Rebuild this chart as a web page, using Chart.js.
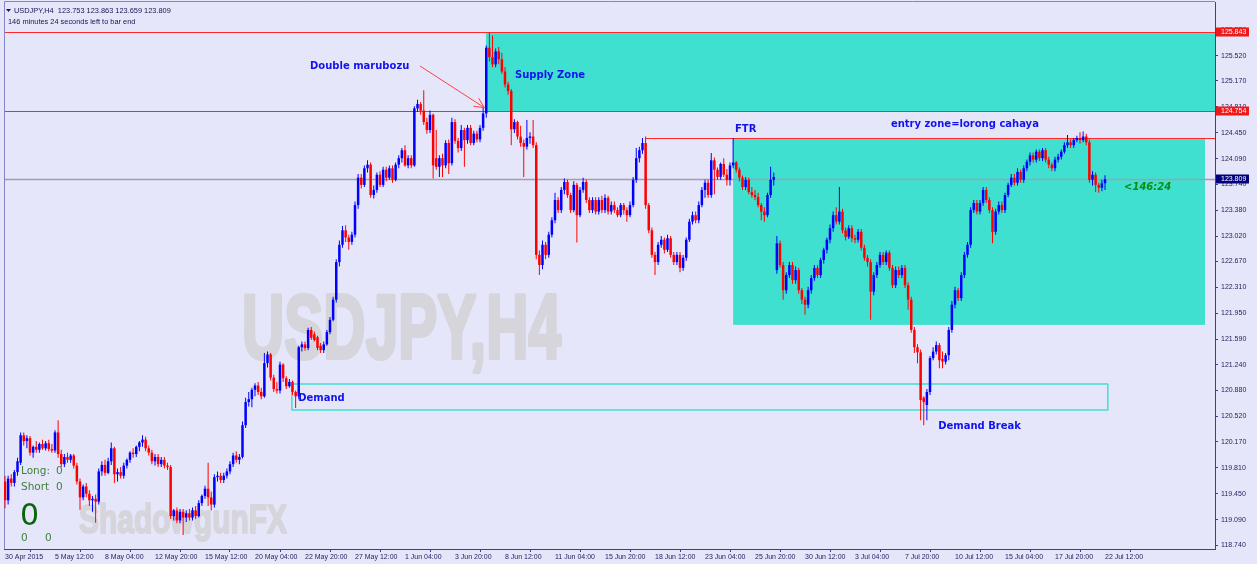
<!DOCTYPE html>
<html>
<head>
<meta charset="utf-8">
<script src="https://cdn.jsdelivr.net/npm/chart.js@4.4.1/dist/chart.umd.min.js"></script>
<style>
html,body{margin:0;padding:0;background:#E6E6FA;}
#wrap{width:1257px;height:564px;position:relative;}
canvas{display:block;}
</style>
</head>
<body>
<div id="wrap"><canvas id="c" width="1257" height="564"></canvas></div>
<script>
// ---- data (H4 candles) ----
const openP = [
119.62,119.36,119.66,119.60,119.75,119.88,120.26,120.18,120.22,120.02,
120.10,120.06,120.14,120.08,120.15,120.07,120.05,120.30,120.00,119.86,
119.96,119.92,119.98,119.84,119.62,119.40,119.55,119.45,119.36,119.38,
119.34,119.76,119.85,119.74,119.90,120.08,119.72,119.75,119.70,119.84,
119.92,120.02,120.00,120.10,120.16,120.20,120.08,120.02,119.90,119.96,
119.86,119.92,119.84,119.82,119.14,119.22,119.08,119.20,119.12,119.18,
119.12,119.22,119.14,119.32,119.42,119.52,119.40,119.30,119.68,119.70,
119.64,119.70,119.76,119.86,119.98,119.92,119.96,120.40,120.72,120.76,
120.89,120.95,120.86,120.80,121.26,121.38,121.06,120.90,120.88,121.24,
121.05,120.94,121.00,120.86,120.80,121.48,121.52,121.47,121.72,121.66,
121.62,121.50,121.44,121.52,121.69,121.86,122.14,122.66,122.90,123.10,
123.00,122.94,123.04,123.45,123.83,123.73,123.96,124.01,123.59,123.66,
123.87,123.73,123.94,123.83,123.96,123.80,124.01,124.10,124.21,124.00,
124.10,124.00,124.79,124.85,124.76,124.60,124.49,124.70,124.10,123.98,
124.10,124.00,124.31,124.03,124.60,124.34,124.24,124.49,124.35,124.52,
124.31,124.44,124.36,124.52,124.72,125.63,125.50,125.40,125.58,125.47,
125.30,125.12,125.03,124.50,124.60,124.40,124.31,124.26,124.38,124.40,
124.28,122.76,122.62,122.90,122.76,123.04,123.24,123.52,123.38,123.66,
123.77,123.59,123.38,123.73,123.31,123.66,123.77,123.52,123.38,123.52,
123.36,123.52,123.38,123.55,123.36,123.45,123.38,123.31,123.45,123.38,
123.31,123.45,123.80,124.10,124.21,124.31,123.45,123.10,122.76,122.66,
122.90,122.97,122.83,122.99,122.76,122.66,122.76,122.58,122.72,122.97,
123.22,123.31,123.24,123.45,123.66,123.76,123.59,124.07,123.94,123.84,
124.02,123.87,123.80,124.00,124.04,123.94,123.83,123.70,123.80,123.63,
123.59,123.56,123.45,123.36,123.31,123.59,123.80,122.55,122.92,122.62,
122.27,122.48,122.62,122.41,122.55,122.27,122.14,122.07,122.27,122.44,
122.58,122.48,122.69,122.83,122.97,123.13,123.31,123.22,123.36,123.10,
123.01,123.13,122.99,122.97,123.08,122.86,122.72,122.66,122.25,122.48,
122.62,122.76,122.66,122.79,122.58,122.34,122.55,122.48,122.58,122.34,
122.14,121.72,121.48,121.41,120.78,120.68,120.86,121.33,121.42,121.51,
121.32,121.28,121.37,121.72,122.07,122.27,122.16,122.48,122.76,122.90,
123.38,123.48,123.36,123.48,123.66,123.52,123.38,123.08,123.36,123.45,
123.38,123.59,123.73,123.83,123.76,123.91,123.80,123.96,124.05,124.14,
124.08,124.19,124.10,124.21,124.08,124.01,123.96,124.08,124.12,124.19,
124.28,124.32,124.28,124.35,124.38,124.35,124.40,124.32,123.80,123.87,
123.73,123.69,123.753
];
const highP = [
119.70,119.70,119.72,119.78,119.95,120.30,120.30,120.26,120.25,120.12,
120.18,120.16,120.20,120.18,120.20,120.14,120.33,120.47,120.06,120.00,
120.02,120.00,120.00,119.88,119.66,119.58,119.60,119.50,119.42,119.44,
119.80,119.90,119.92,119.95,120.16,120.10,119.80,119.82,119.88,119.94,
120.04,120.08,120.12,120.18,120.26,120.24,120.12,120.06,120.00,120.00,
119.96,119.96,119.88,119.85,119.24,119.26,119.24,119.24,119.22,119.24,
119.26,119.28,119.36,119.44,119.56,119.88,119.48,119.72,119.76,119.74,
119.74,119.80,119.90,120.02,120.04,120.00,120.45,120.78,120.86,120.92,
120.98,121.00,120.92,121.40,121.42,121.40,121.10,121.00,121.28,121.26,
121.08,121.04,121.02,120.88,121.50,121.56,121.56,121.75,121.76,121.70,
121.64,121.54,121.56,121.72,121.90,122.18,122.70,122.96,123.16,123.17,
123.04,123.08,123.50,123.88,123.88,124.00,124.07,124.04,123.72,123.90,
123.92,123.98,123.98,124.00,124.00,124.04,124.14,124.24,124.28,124.14,
124.14,124.82,124.91,124.88,125.04,124.66,124.76,124.72,124.49,124.14,
124.16,124.35,124.36,124.66,124.64,124.38,124.56,124.52,124.56,124.56,
124.48,124.48,124.56,124.80,125.66,125.84,125.80,125.62,125.64,125.56,
125.36,125.16,125.06,124.64,124.62,124.55,124.36,124.63,124.46,124.63,
124.32,122.82,122.96,122.94,123.08,123.28,123.62,123.56,123.70,123.82,
123.80,123.62,123.78,123.76,123.70,123.83,123.80,123.56,123.56,123.56,
123.56,123.58,123.60,123.58,123.50,123.50,123.42,123.48,123.48,123.42,
123.50,123.84,124.24,124.26,124.38,124.40,123.48,123.14,122.80,122.94,
123.02,123.00,123.04,123.02,122.80,122.80,122.80,122.76,123.00,123.26,
123.36,123.36,123.50,123.70,123.80,123.80,124.17,124.11,123.97,124.04,
124.10,123.95,124.04,124.38,124.06,123.97,123.86,123.84,123.83,123.70,
123.66,123.62,123.48,123.42,123.62,123.98,123.90,123.02,122.96,122.66,
122.52,122.66,122.66,122.60,122.58,122.30,122.18,122.32,122.48,122.62,
122.62,122.72,122.86,123.00,123.18,123.36,123.42,123.70,123.40,123.14,
123.17,123.17,123.04,123.12,123.12,122.90,122.76,122.70,122.52,122.66,
122.80,122.80,122.82,122.82,122.62,122.60,122.60,122.62,122.62,122.38,
122.18,121.76,121.52,121.45,120.80,120.90,121.36,121.48,121.56,121.54,
121.42,121.40,121.76,122.12,122.32,122.30,122.52,122.80,122.94,123.42,
123.52,123.52,123.52,123.70,123.70,123.56,123.42,123.40,123.50,123.50,
123.62,123.76,123.88,123.88,123.96,123.94,124.00,124.08,124.18,124.18,
124.22,124.22,124.24,124.24,124.12,124.04,124.12,124.16,124.22,124.32,
124.42,124.36,124.38,124.41,124.46,124.47,124.44,124.36,123.92,123.90,
123.76,123.80,123.863
];
const lowP = [
119.25,119.30,119.55,119.55,119.70,119.85,120.12,120.08,119.98,119.95,
120.02,120.02,120.06,120.05,120.04,120.02,120.02,119.95,119.82,119.82,
119.88,119.88,119.80,119.58,119.23,119.36,119.40,119.28,119.20,119.05,
119.30,119.70,119.70,119.72,119.85,119.60,119.62,119.66,119.66,119.80,
119.88,119.95,119.96,120.04,120.10,120.04,119.98,119.86,119.84,119.82,
119.82,119.80,119.78,119.10,119.08,119.04,119.04,118.88,119.06,119.08,
119.08,119.10,119.12,119.28,119.38,119.28,119.22,119.26,119.62,119.60,
119.60,119.66,119.72,119.82,119.88,119.86,119.94,120.36,120.66,120.65,
120.80,120.82,120.76,120.78,121.20,121.02,120.86,120.84,120.84,121.00,
120.90,120.92,120.82,120.64,120.76,121.42,121.43,121.44,121.58,121.56,
121.44,121.40,121.40,121.50,121.66,121.84,122.10,122.60,122.86,122.94,
122.83,122.90,123.00,123.40,123.68,123.70,123.90,123.55,123.54,123.62,
123.70,123.70,123.78,123.80,123.76,123.78,123.96,124.04,123.98,123.96,
123.96,123.98,124.74,124.70,124.56,124.44,124.45,123.82,123.94,123.84,
123.84,123.96,123.88,124.00,124.30,124.18,124.20,123.98,124.30,124.28,
124.28,124.32,124.32,124.48,124.66,125.44,125.36,125.36,125.40,125.27,
125.08,124.98,124.28,124.45,124.36,124.26,123.84,124.22,124.30,124.24,
122.70,122.48,122.56,122.70,122.72,123.00,123.20,123.34,123.34,123.60,
123.55,123.34,123.35,122.93,123.28,123.62,123.48,123.34,123.34,123.32,
123.32,123.34,123.34,123.32,123.32,123.34,123.28,123.28,123.32,123.22,
123.28,123.42,123.76,124.04,124.16,123.40,123.06,122.72,122.48,122.62,
122.86,122.78,122.80,122.72,122.62,122.62,122.52,122.54,122.68,122.94,
123.18,123.20,123.20,123.42,123.55,123.55,123.55,123.60,123.80,123.80,
123.84,123.72,123.72,123.96,123.90,123.78,123.66,123.66,123.60,123.55,
123.52,123.42,123.24,123.22,123.28,123.55,123.72,122.50,122.58,122.14,
122.22,122.44,122.36,122.36,122.22,122.08,121.93,122.02,122.22,122.40,
122.44,122.44,122.64,122.78,122.92,123.08,123.18,123.18,123.06,122.96,
122.98,122.94,122.92,122.93,122.82,122.68,122.60,121.86,122.20,122.44,
122.58,122.62,122.62,122.54,122.30,122.30,122.44,122.44,122.30,122.00,
121.68,121.40,121.26,120.47,120.40,120.47,120.82,121.30,121.38,121.19,
121.19,121.24,121.30,121.68,122.02,122.12,122.12,122.44,122.72,122.86,
123.34,123.32,123.32,123.44,123.48,123.34,122.92,123.04,123.32,123.34,
123.34,123.56,123.70,123.72,123.72,123.76,123.76,123.92,124.00,124.04,
124.04,124.06,124.06,124.04,123.96,123.92,123.92,124.04,124.08,124.16,
124.24,124.24,124.24,124.32,124.30,124.32,124.28,123.76,123.72,123.63,
123.62,123.64,123.659
];
const closeP = [
119.36,119.66,119.60,119.75,119.90,120.26,120.18,120.22,120.02,120.10,
120.06,120.14,120.08,120.15,120.07,120.05,120.30,120.00,119.86,119.96,
119.92,119.98,119.84,119.62,119.40,119.55,119.45,119.36,119.38,119.34,
119.76,119.85,119.74,119.90,120.08,119.72,119.75,119.70,119.84,119.92,
120.02,120.00,120.10,120.16,120.20,120.08,120.02,119.90,119.96,119.86,
119.92,119.84,119.82,119.14,119.22,119.08,119.20,119.12,119.18,119.12,
119.22,119.14,119.32,119.42,119.52,119.40,119.30,119.68,119.70,119.64,
119.70,119.76,119.86,119.98,119.92,119.96,120.40,120.72,120.76,120.89,
120.95,120.86,120.80,121.26,121.38,121.06,120.90,120.88,121.24,121.05,
120.94,121.00,120.86,120.80,121.48,121.52,121.47,121.72,121.61,121.58,
121.47,121.44,121.52,121.69,121.86,122.14,122.66,122.90,123.10,123.00,
122.94,123.04,123.45,123.83,123.73,123.96,124.01,123.59,123.66,123.87,
123.73,123.94,123.83,123.96,123.80,124.01,124.10,124.21,124.00,124.10,
124.00,124.79,124.85,124.76,124.60,124.49,124.70,124.00,123.98,124.10,
124.00,124.31,124.03,124.60,124.34,124.24,124.49,124.35,124.52,124.31,
124.44,124.36,124.52,124.72,125.63,125.50,125.40,125.58,125.47,125.30,
125.12,125.03,124.50,124.60,124.40,124.31,124.26,124.38,124.40,124.28,
122.76,122.62,122.90,122.76,123.04,123.24,123.52,123.38,123.66,123.77,
123.59,123.38,123.73,123.31,123.66,123.77,123.52,123.38,123.52,123.36,
123.52,123.38,123.55,123.36,123.45,123.38,123.31,123.45,123.38,123.31,
123.45,123.80,124.10,124.21,124.31,123.45,123.10,122.76,122.66,122.90,
122.97,122.83,122.99,122.76,122.66,122.76,122.58,122.72,122.97,123.22,
123.31,123.24,123.45,123.66,123.76,123.59,124.07,123.94,123.84,124.02,
123.87,123.80,124.00,124.04,123.94,123.83,123.70,123.80,123.63,123.59,
123.56,123.45,123.36,123.31,123.59,123.80,123.84,122.92,122.62,122.27,
122.48,122.62,122.41,122.55,122.27,122.14,122.07,122.27,122.44,122.58,
122.48,122.69,122.83,122.97,123.13,123.31,123.22,123.36,123.10,123.01,
123.13,122.99,122.97,123.08,122.86,122.72,122.66,122.25,122.48,122.62,
122.76,122.66,122.79,122.58,122.34,122.55,122.48,122.58,122.34,122.14,
121.72,121.48,121.41,120.75,120.72,120.86,121.33,121.42,121.51,121.30,
121.28,121.37,121.72,122.07,122.27,122.16,122.48,122.76,122.90,123.38,
123.48,123.36,123.48,123.66,123.52,123.38,123.08,123.36,123.45,123.38,
123.59,123.73,123.83,123.76,123.91,123.80,123.96,124.05,124.14,124.08,
124.19,124.10,124.21,124.08,124.01,123.96,124.08,124.12,124.19,124.28,
124.32,124.28,124.35,124.38,124.35,124.40,124.32,123.80,123.87,123.73,
123.69,123.75,123.809
];
// one time label every 16 bars, starting with the first bar
const timeLabels = ["30 Apr 2015","5 May 12:00","8 May 04:00","12 May 20:00","15 May 12:00","20 May 04:00",
  "22 May 20:00","27 May 12:00","1 Jun 04:00","3 Jun 20:00","8 Jun 12:00","11 Jun 04:00","15 Jun 20:00",
  "18 Jun 12:00","23 Jun 04:00","25 Jun 20:00","30 Jun 12:00","3 Jul 04:00","7 Jul 20:00","10 Jul 12:00",
  "15 Jul 04:00","17 Jul 20:00","22 Jul 12:00"];
const priceTicks = [118.740,119.090,119.450,119.810,120.170,120.520,120.880,121.240,121.590,121.950,
  122.310,122.670,123.020,123.380,123.740,124.090,124.450,124.810,125.170,125.520,125.880];
const markedLevels = [125.843, 124.754];
const currentPrice = 123.809;
const headerLine = "USDJPY,H4  123.753 123.863 123.659 123.809";
const timerLine = "146 minutes 24 seconds left to bar end";

// ---- drawn objects, anchored in bar / price space ----
const supplyZone = {fromBar: 153.9, top: 125.843, bottom: 124.754};
const entryZone = {fromBar: 233, toBar: 384, top: 124.38, bottom: 121.79};
const demandZone = {fromBar: 91.8, toBar: 352.9, top: 120.97, bottom: 120.61};
const ftrLine = {fromBar: 205, price: 124.38};
const arrow = {fromBar: 132.8, fromPrice: 125.377, toBar: 153.4, toPrice: 124.80};
const notes = [
  {text: 'Double marubozu', bar: 97.6, price: 125.377},
  {text: 'Supply Zone', bar: 163.2, price: 125.253},
  {text: 'FTR', bar: 233.6, price: 124.504},
  {text: 'entry zone=lorong cahaya', bar: 283.5, price: 124.574},
  {text: 'Demand', bar: 93.8, price: 120.77},
  {text: 'Demand Break', bar: 298.6, price: 120.39}
];

// ---- build datasets ----
const candleColors = closeP.map((c, i) => c >= openP[i] ? '#0000FF' : '#FF0000');
const wickData = closeP.map((c, i) => ({x: i, y: [lowP[i], highP[i]]}));
const bodyData = closeP.map((c, i) => {
  const lo = Math.min(openP[i], c), hi = Math.max(openP[i], c);
  return {x: i, y: [lo, Math.max(hi, lo + 0.01)]};
});

const axisColor = '#3E3E98';
const tickColor = '#24245E';
const smallFont = {family: '"Liberation Sans", Arial, sans-serif', size: 7};
const Y_MIN = 118.6846, Y_MAX = 126.264;

const decor = {
  id: 'decor',
  beforeDraw(chart) {
    const ctx = chart.ctx;
    ctx.save();
    ctx.fillStyle = '#E6E6FA';
    ctx.fillRect(0, 0, chart.width, chart.height);
    ctx.restore();
  },
  beforeDatasetsDraw(chart) {
    const {ctx, chartArea: ca, scales: {x: xs, y: ys}} = chart;
    const X = v => xs.getPixelForValue(v), Y = v => ys.getPixelForValue(v);
    ctx.save();
    // frame (left / top)
    ctx.strokeStyle = '#8484C8'; ctx.lineWidth = 1;
    ctx.beginPath();
    ctx.moveTo(ca.left + 0.5, ca.bottom); ctx.lineTo(ca.left + 0.5, ca.top - 0.5); ctx.lineTo(ca.right, ca.top - 0.5);
    ctx.stroke();
    // watermarks
    ctx.fillStyle = '#D5D5DB'; ctx.strokeStyle = '#D5D5DB'; ctx.lineJoin = 'round';
    ctx.textAlign = 'left'; ctx.textBaseline = 'alphabetic';
    ctx.font = 'bold 90px "Liberation Sans", Arial, sans-serif';
    ctx.lineWidth = 4;
    ctx.strokeText('USDJPY,H4', 242, 358, 319);
    ctx.fillText('USDJPY,H4', 242, 358, 319);
    ctx.font = 'bold 41px "Liberation Sans", Arial, sans-serif';
    ctx.lineWidth = 2;
    ctx.strokeText('ShadowgunFX', 79, 533, 208);
    ctx.fillText('ShadowgunFX', 79, 533, 208);
    // zones
    ctx.fillStyle = '#40E0D0';
    let x0 = X(supplyZone.fromBar), y0 = Y(supplyZone.top), y1 = Y(supplyZone.bottom);
    ctx.fillRect(x0, y0, ca.right - x0, y1 - y0);
    x0 = X(entryZone.fromBar); let x1 = X(entryZone.toBar);
    y0 = Y(entryZone.top); y1 = Y(entryZone.bottom);
    ctx.fillRect(x0, y0, x1 - x0, y1 - y0);
    ctx.strokeStyle = '#40E0D0'; ctx.lineWidth = 1.5;
    x0 = X(demandZone.fromBar); x1 = X(demandZone.toBar);
    y0 = Y(demandZone.top); y1 = Y(demandZone.bottom);
    ctx.strokeRect(x0, y0, x1 - x0, y1 - y0);
    // horizontal lines
    const hline = (p, xa, xb, col, w) => {
      ctx.strokeStyle = col; ctx.lineWidth = w;
      const y = Math.round(Y(p)) + 0.5;
      ctx.beginPath(); ctx.moveTo(xa, y); ctx.lineTo(xb, y); ctx.stroke();
    };
    hline(currentPrice, ca.left + 1, ca.right, '#A0A0AA', 1.5);
    markedLevels.forEach(p => hline(p, ca.left + 1, ca.right, '#FF2828', 1.2));
    hline(ftrLine.price, X(ftrLine.fromBar), ca.right, '#FF2828', 1.2);
    ctx.restore();
  },
  afterDraw(chart) {
    const {ctx, chartArea: ca, scales: {x: xs, y: ys}} = chart;
    const X = v => xs.getPixelForValue(v), Y = v => ys.getPixelForValue(v);
    ctx.save();
    // arrow
    const ax0 = X(arrow.fromBar), ay0 = Y(arrow.fromPrice), ax1 = X(arrow.toBar), ay1 = Y(arrow.toPrice);
    ctx.strokeStyle = '#FF4040'; ctx.lineWidth = 1;
    ctx.beginPath(); ctx.moveTo(ax0, ay0); ctx.lineTo(ax1, ay1); ctx.stroke();
    const ang = Math.atan2(ay1 - ay0, ax1 - ax0);
    [0.45, -0.45].forEach(d => {
      ctx.beginPath(); ctx.moveTo(ax1, ay1);
      ctx.lineTo(ax1 - 11 * Math.cos(ang + d), ay1 - 11 * Math.sin(ang + d)); ctx.stroke();
    });
    // notes
    ctx.fillStyle = '#1212EE';
    ctx.font = 'bold 10px "DejaVu Sans", Verdana, sans-serif';
    ctx.textAlign = 'left'; ctx.textBaseline = 'middle';
    notes.forEach(n => ctx.fillText(n.text, X(n.bar), Y(n.price)));
    // countdown
    ctx.fillStyle = '#118A11';
    ctx.font = 'italic bold 10px "DejaVu Sans", Verdana, sans-serif';
    ctx.fillText('<146:24', X(358.1), Y(currentPrice) + 8);
    // price tags on axis
    const tag = (p, bg) => {
      const y = Y(p);
      ctx.fillStyle = bg; ctx.fillRect(ca.right + 1, Math.round(y) - 4.5, 33, 9);
      ctx.fillStyle = '#FFFFFF';
      ctx.font = '7px "Liberation Sans", Arial, sans-serif';
      ctx.textBaseline = 'middle';
      ctx.fillText(p.toFixed(3), ca.right + 6, Math.round(y));
    };
    markedLevels.forEach(p => tag(p, '#F01818'));
    tag(currentPrice, '#000080');
    // header
    ctx.fillStyle = '#15154F';
    ctx.beginPath(); ctx.moveTo(6, 9); ctx.lineTo(11, 9); ctx.lineTo(8.5, 12); ctx.closePath(); ctx.fill();
    ctx.font = '7.4px "Liberation Sans", Arial, sans-serif';
    ctx.textBaseline = 'middle';
    ctx.fillText(headerLine, 14, 11);
    ctx.fillText(timerLine, 8, 22);
    // trade panel
    ctx.fillStyle = '#3E7F3E';
    ctx.font = '10.5px "DejaVu Sans", Verdana, sans-serif';
    ctx.fillText('Long:', 21, 471);
    ctx.fillText('0', 56, 471);
    ctx.fillText('Short', 21, 487);
    ctx.fillText('0', 56, 487);
    ctx.fillText('0', 21, 538);
    ctx.fillText('0', 45, 538);
    ctx.fillStyle = '#0A640A';
    ctx.font = '30px "DejaVu Sans", Verdana, sans-serif';
    ctx.textBaseline = 'alphabetic';
    ctx.fillText('0', 20, 525);
    ctx.restore();
  }
};

new Chart(document.getElementById('c'), {
  type: 'bar',
  data: {
    datasets: [
      {data: wickData, backgroundColor: candleColors, barThickness: 1, grouped: false, borderWidth: 0, inflateAmount: 0},
      {data: bodyData, backgroundColor: candleColors, barThickness: 2.5, grouped: false, borderWidth: 0, inflateAmount: 0}
    ]
  },
  options: {
    responsive: false,
    animation: false,
    devicePixelRatio: 1,
    events: [],
    layout: {autoPadding: false, padding: {left: 4, top: 2, right: 0, bottom: 0}},
    plugins: {legend: {display: false}, tooltip: {enabled: false}},
    scales: {
      x: {
        type: 'linear', min: -0.32, max: 387.2, offset: false,
        grid: {display: true, drawOnChartArea: false, drawTicks: true, tickLength: 3, color: axisColor},
        border: {display: true, color: axisColor, width: 1},
        afterBuildTicks: s => { s.ticks = timeLabels.map((_, k) => ({value: k * 16})); },
        afterFit: s => { s.height = 15; s.paddingLeft = 0; s.paddingRight = 0; },
        ticks: {autoSkip: false, maxRotation: 0, minRotation: 0, align: 'start', padding: 1,
          font: smallFont, color: tickColor,
          callback: v => timeLabels[Math.round(v / 16)]}
      },
      y: {
        type: 'linear', position: 'right', min: Y_MIN, max: Y_MAX,
        grid: {display: true, drawOnChartArea: false, drawTicks: true, tickLength: 3, color: axisColor},
        border: {display: true, color: axisColor, width: 1},
        afterBuildTicks: s => { s.ticks = priceTicks.map(v => ({value: v})); },
        afterFit: s => { s.width = 42; s.paddingTop = 0; s.paddingBottom = 0; },
        ticks: {autoSkip: false, padding: 3, font: smallFont, color: tickColor,
          callback: v => Number(v).toFixed(3)}
      }
    }
  },
  plugins: [decor]
});
</script>
</body>
</html>
